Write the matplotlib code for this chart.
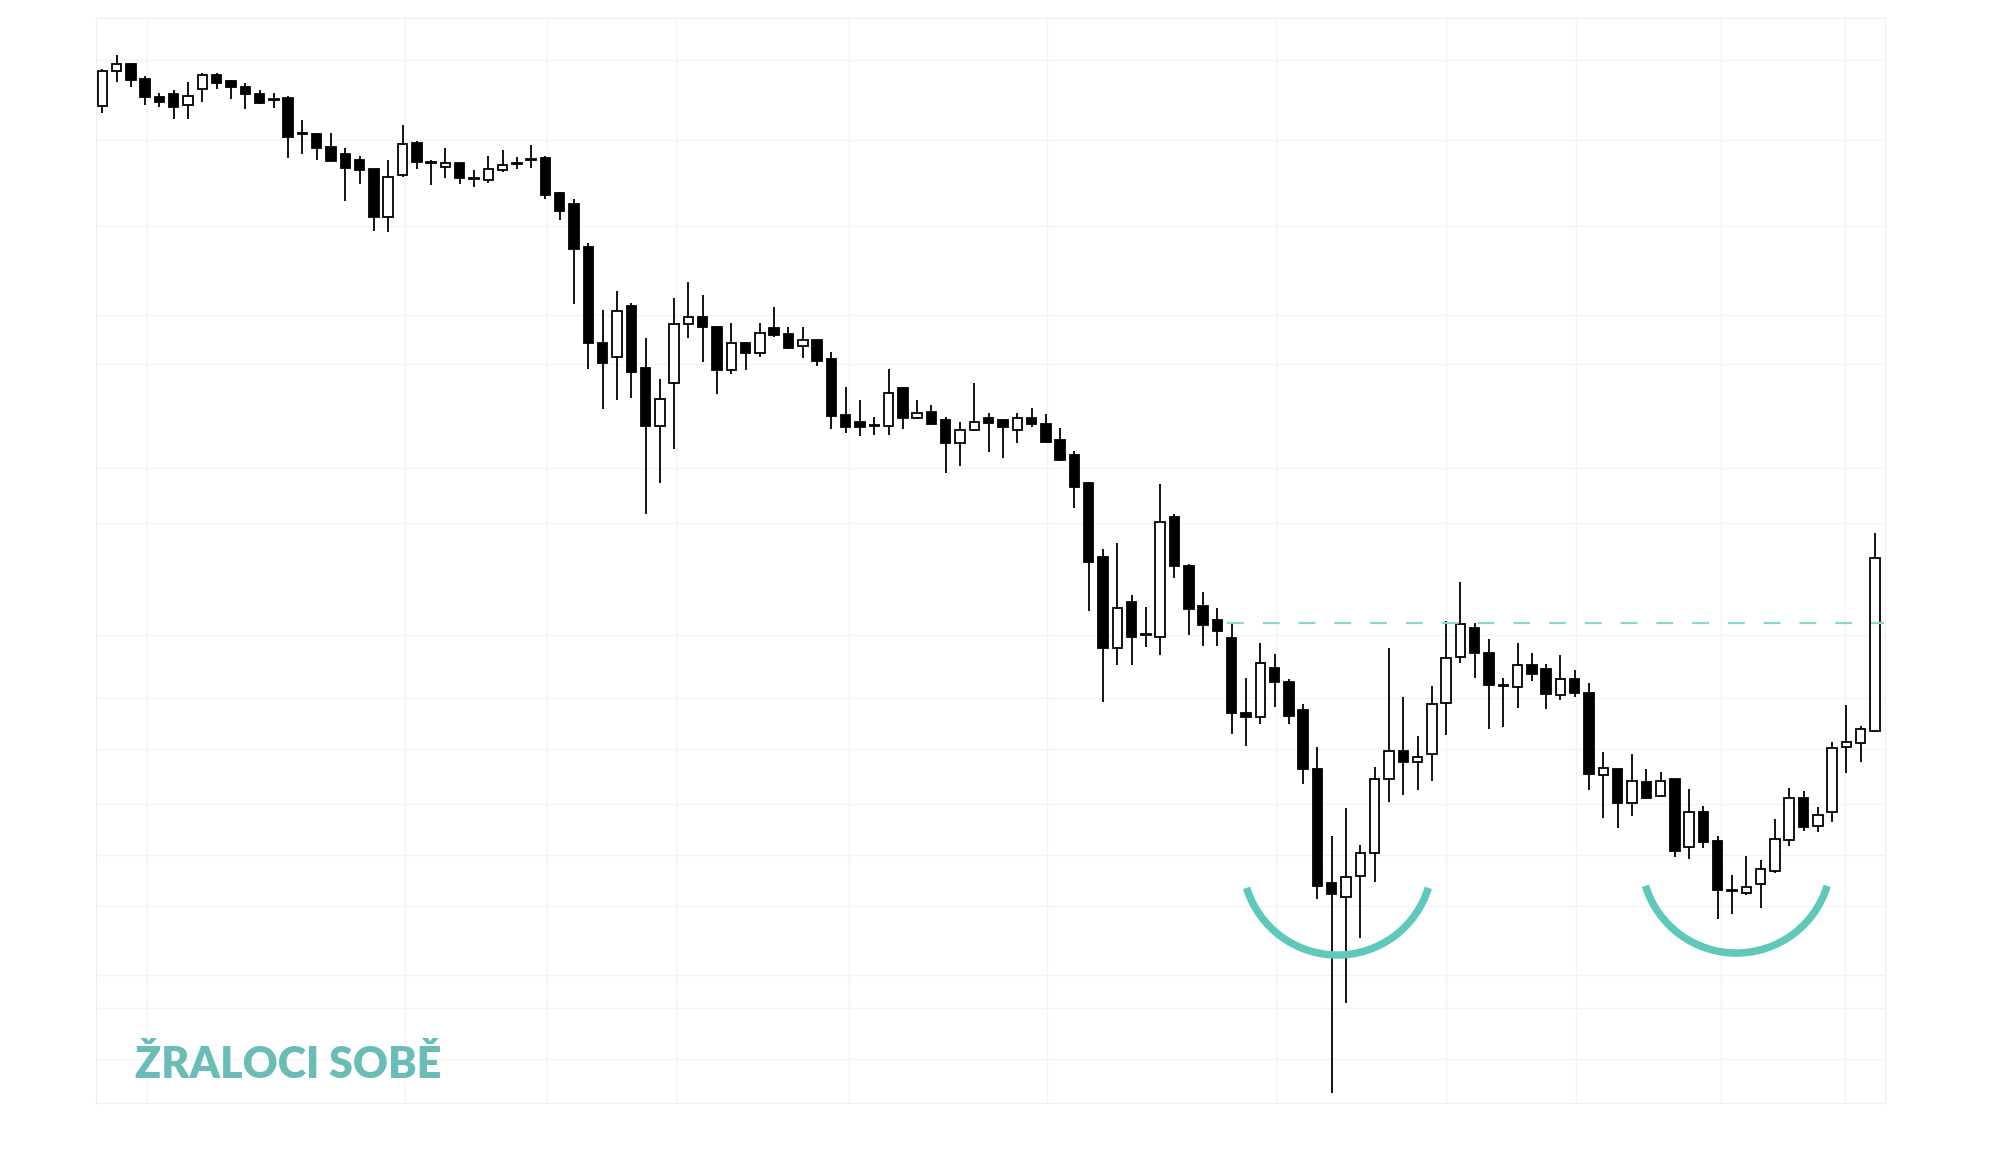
import matplotlib.pyplot as plt
from matplotlib.patches import Arc
from matplotlib.transforms import ScaledTranslation
import numpy as np

# OHLC values (arbitrary price units), one per candle
opens = [1094, 1129, 1136, 1121, 1103, 1106, 1095, 1111, 1125, 1119,
         1113, 1106, 1101, 1102, 1067, 1066, 1053, 1046, 1040, 1031,
         983, 1025, 1057, 1038, 1033, 1037, 1022, 1020, 1030, 1036,
         1040, 1042, 1007, 996, 953, 857, 843, 894, 832, 774,
         817, 876, 883, 873, 830, 857, 847, 872, 866, 854,
         860, 841, 785, 778, 775, 774, 812, 782, 788, 780,
         757, 770, 782, 780, 770, 782, 776, 760, 745, 717,
         643, 552, 598, 566, 563, 683, 634, 594, 580, 562,
         487, 483, 532, 518, 490, 431, 317, 303, 324, 347,
         421, 449, 438, 446, 497, 543, 572, 547, 515, 513,
         535, 531, 505, 521, 507, 425, 431, 397, 418, 404,
         421, 353, 388, 359, 310, 307, 316, 329, 360, 402,
         374, 388, 453, 457, 469]
highs = [1131, 1145, 1137, 1124, 1107, 1110, 1118, 1127, 1127, 1120,
         1117, 1110, 1107, 1104, 1080, 1066, 1067, 1052, 1044, 1031,
         1040, 1075, 1059, 1040, 1052, 1037, 1030, 1044, 1050, 1043,
         1055, 1044, 1008, 1001, 957, 890, 909, 897, 862, 821,
         902, 918, 905, 874, 877, 858, 877, 893, 873, 873,
         860, 848, 813, 800, 783, 831, 813, 800, 795, 783,
         778, 817, 787, 781, 787, 792, 786, 772, 749, 718,
         651, 657, 605, 593, 716, 686, 636, 608, 592, 577,
         522, 557, 546, 521, 496, 453, 364, 392, 355, 433,
         552, 503, 464, 514, 579, 618, 577, 561, 522, 557,
         547, 536, 545, 530, 517, 448, 431, 446, 431, 428,
         421, 411, 394, 364, 325, 344, 340, 381, 412, 409,
         393, 458, 495, 474, 667]
lows = [1087, 1118, 1113, 1095, 1093, 1081, 1081, 1098, 1111, 1101,
        1091, 1096, 1092, 1042, 1046, 1040, 1039, 999, 1016, 969,
        968, 1023, 1031, 1015, 1022, 1016, 1013, 1017, 1028, 1031,
        1032, 1001, 980, 896, 831, 791, 800, 802, 686, 717,
        751, 862, 838, 806, 826, 830, 843, 863, 851, 842,
        834, 771, 767, 764, 765, 765, 771, 781, 775, 727,
        734, 769, 748, 742, 757, 773, 757, 739, 692, 589,
        498, 535, 535, 553, 545, 622, 565, 554, 554, 466,
        454, 476, 493, 476, 416, 301, 107, 197, 262, 318,
        398, 405, 410, 419, 465, 537, 522, 471, 473, 492,
        519, 491, 500, 503, 410, 382, 372, 384, 401, 404,
        343, 341, 352, 281, 286, 305, 292, 327, 354, 369,
        368, 378, 427, 438, 469]
closes = [1129, 1136, 1120, 1103, 1098, 1093, 1104, 1125, 1117, 1113,
          1106, 1097, 1100, 1063, 1066, 1052, 1039, 1032, 1030, 983,
          1023, 1056, 1038, 1037, 1037, 1022, 1021, 1031, 1035, 1037,
          1041, 1005, 989, 951, 857, 837, 889, 828, 774, 801,
          876, 883, 873, 830, 857, 847, 867, 865, 852, 860,
          839, 784, 773, 773, 774, 807, 782, 787, 776, 757,
          770, 778, 777, 773, 782, 776, 758, 740, 713, 638,
          552, 592, 563, 565, 678, 634, 591, 575, 569, 487,
          483, 537, 518, 484, 431, 314, 306, 323, 347, 421,
          449, 438, 443, 496, 542, 576, 547, 515, 514, 535,
          526, 506, 521, 507, 426, 432, 397, 419, 402, 419,
          349, 388, 358, 310, 309, 313, 331, 361, 402, 373,
          385, 452, 458, 471, 642]

neckline = 577          # resistance level (dashed)
neck_from, neck_to = 78.7, 124.6
cup_centers = [(86.4, 340), (114.3, 342)]   # (candle index, price)

h_grid = [1140, 1060, 974, 885, 836, 732, 677, 565, 502, 451, 396, 345, 294, 225, 192, 141]
v_grid = [3.1, 21.2, 31.1, 40.1, 52.2, 66.1, 82.1, 94.0, 103.1, 113.2, 121.9]

label = "ŽRALOCI SOBĚ"
teal = "#5ec8bb"

o = np.array(opens)
h = np.array(highs)
l = np.array(lows)
c = np.array(closes)
x = np.arange(len(o))
up = c >= o

fig = plt.figure(figsize=(20, 11.56), dpi=100)
ax = fig.add_axes([0.048, 0.0458, 0.8945, 0.9386])

for g in h_grid:
    ax.axhline(g, color="#f3f3f3", lw=1, zorder=0)
for g in v_grid:
    ax.axvline(g, color="#f3f3f3", lw=1, zorder=0)

ax.vlines(x, l, h, color="black", lw=1.3, zorder=2)
body_h = np.maximum(np.abs(c - o), 1.0)
ax.bar(x, body_h, bottom=np.minimum(o, c), width=0.66,
       color=np.where(up, "white", "black"), edgecolor="black", lw=1.3, zorder=3)

ax.hlines(neckline, neck_from, neck_to, colors="#8fd5cf", lw=1.6,
          linestyles=(0, (7.6, 8.5)), zorder=4)

for cx, cy in cup_centers:
    arc = Arc((0, 0), 1.9, 1.9, theta1=197, theta2=343, color=teal, lw=5.4,
              transform=fig.dpi_scale_trans + ScaledTranslation(cx, cy, ax.transData),
              zorder=4)
    arc.set_capstyle("butt")
    ax.add_artist(arc)

ax.set_xlim(-0.44, 124.7)
ax.set_ylim(97, 1182)
ax.set_xticks([])
ax.set_yticks([])
for s in ax.spines.values():
    s.set_color("#eeeeee")

fig.text(0.0675, 0.0675, label, color="#6abdb7", fontsize=31,
         fontfamily="Lato", fontweight="heavy", ha="left", va="baseline")

fig.savefig("out.png", dpi=100, facecolor="white")
